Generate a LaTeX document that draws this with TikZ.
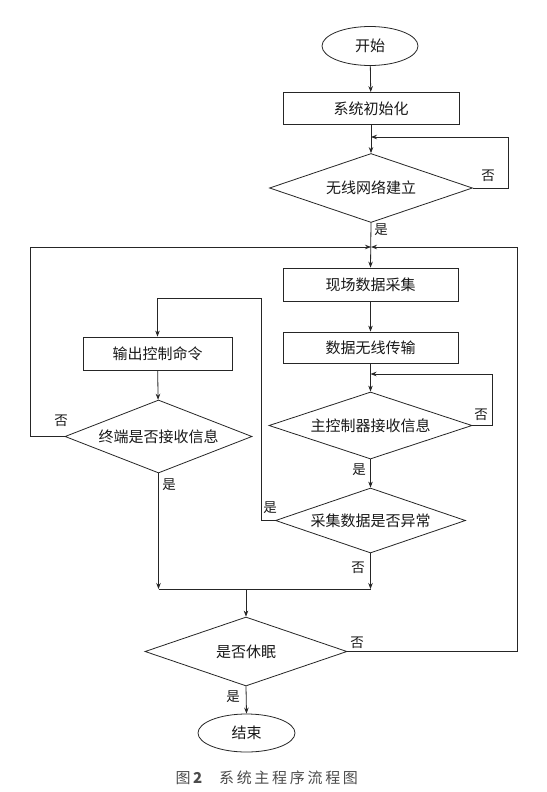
\documentclass[tikz,border=0pt]{standalone}
\usepackage{fontspec}
\newfontfamily\cjk{Noto Sans CJK SC}
\newfontfamily\capfont[LetterSpace=18]{Noto Sans CJK SC}
\usetikzlibrary{shapes.geometric,arrows.meta}
\begin{document}
\begin{tikzpicture}[x=1pt,y=-1pt,
  every node/.style={font=\cjk\fontsize{15}{18}\selectfont, text=black!90},
  line/.style={draw=black!85, line width=0.8pt},
  arr/.style={line, -{Stealth[length=6pt,width=4.5pt]}},
  procbox/.style={line, rectangle, minimum width=176pt, minimum height=32pt, inner sep=0pt},
  decide/.style={line, diamond, aspect=2.9, inner sep=0pt},
  term/.style={line, ellipse, minimum width=96pt, minimum height=39pt, inner sep=0pt},
  lbl/.style={font=\cjk\fontsize{13.5}{16}\selectfont}
]
\useasboundingbox (0,0) rectangle (546,792);
\fill[white] (0,0) rectangle (546,792);

\node[term] (start) at (370,46) {开始};
\node[procbox] (init) at (371,108.5) {系统初始化};
\node[decide, minimum width=203pt, minimum height=69pt] (d1) at (371,188) {无线网络建立};
\node[procbox, minimum width=175pt, minimum height=33pt] (collect) at (370.5,284.5) {现场数据采集};
\node[procbox, minimum width=175pt, minimum height=31pt] (trans) at (370.5,347.5) {数据无线传输};
\node[decide, minimum width=203pt, minimum height=67pt] (d3) at (370.5,425.5) {主控制器接收信息};
\node[decide, minimum width=190pt, minimum height=65pt] (d4) at (370.5,520.5) {采集数据是否异常};
\node[procbox, minimum width=149pt, minimum height=33pt] (output) at (157.5,353.5) {输出控制命令};
\node[decide, minimum width=187pt, minimum height=73pt] (d2) at (158.5,436.5) {终端是否接收信息};
\node[decide, minimum width=202pt, minimum height=69pt] (d5) at (246,651.5) {是否休眠};
\node[term, minimum width=97pt, minimum height=38pt] (end) at (246.5,733) {结束};

\coordinate (l1) at (371,137);
\coordinate (r1) at (508,188);
\coordinate (j1) at (371,247);
\coordinate (jl) at (30,247);
\coordinate (jr) at (517,247);
\coordinate (l3) at (370.5,374);
\coordinate (r3) at (492,425.5);
\coordinate (c4) at (261,520.5);
\coordinate (c4t) at (261,298);
\coordinate (m1) at (158.5,589);
\coordinate (m2) at (370.5,589);
\coordinate (m3) at (246,589);
\coordinate (r5) at (517,651.5);

\draw[arr] (start) -- (init);
\draw[arr] (init) -- (d1);
\draw[arr] (d1.east) -- (r1) |- (l1);
\draw[arr] (d1.south) -- (collect.north);
\draw[arr] (collect) -- (trans);
\draw[arr] (trans) -- (d3);
\draw[arr] (d3.east) -- (r3) |- (l3);
\draw[arr] (d3.south) -- (d4.north);
\draw[arr] (d4.west) -- (c4) -- (c4t) -| (output.north);
\draw[arr] (output) -- (d2);
\draw[arr] (d2.west) -| (jl) -- (j1);
\draw[arr] (d5.east) -- (r5) -- (jr) -- (j1);
\draw[arr] (d2.south) -- (m1);
\draw[arr] (d4.south) -- (m2);
\draw[line] (m1) -- (m2);
\draw[arr] (m3) -- (d5.north);
\draw[arr] (d5.south) -- (end.north);

\node[lbl] (n1) at (488,176) {否};
\node[lbl] (y1) at (381,230) {是};
\node[lbl] (n3) at (481,415) {否};
\node[lbl] (y3) at (359,470) {是};
\node[lbl] (y4) at (270,508) {是};
\node[lbl] (n4) at (358,568) {否};
\node[lbl] (n2) at (61,421) {否};
\node[lbl] (y2) at (169,485) {是};
\node[lbl] (n5) at (357,643) {否};
\node[lbl] (y5) at (233,697) {是};

\node[font=\capfont\fontsize{15}{18}\selectfont, text=black!70, anchor=west] (cap) at (172,778) {图\textbf{2}\hspace{14pt}系统主程序流程图};
\end{tikzpicture}
\end{document}
